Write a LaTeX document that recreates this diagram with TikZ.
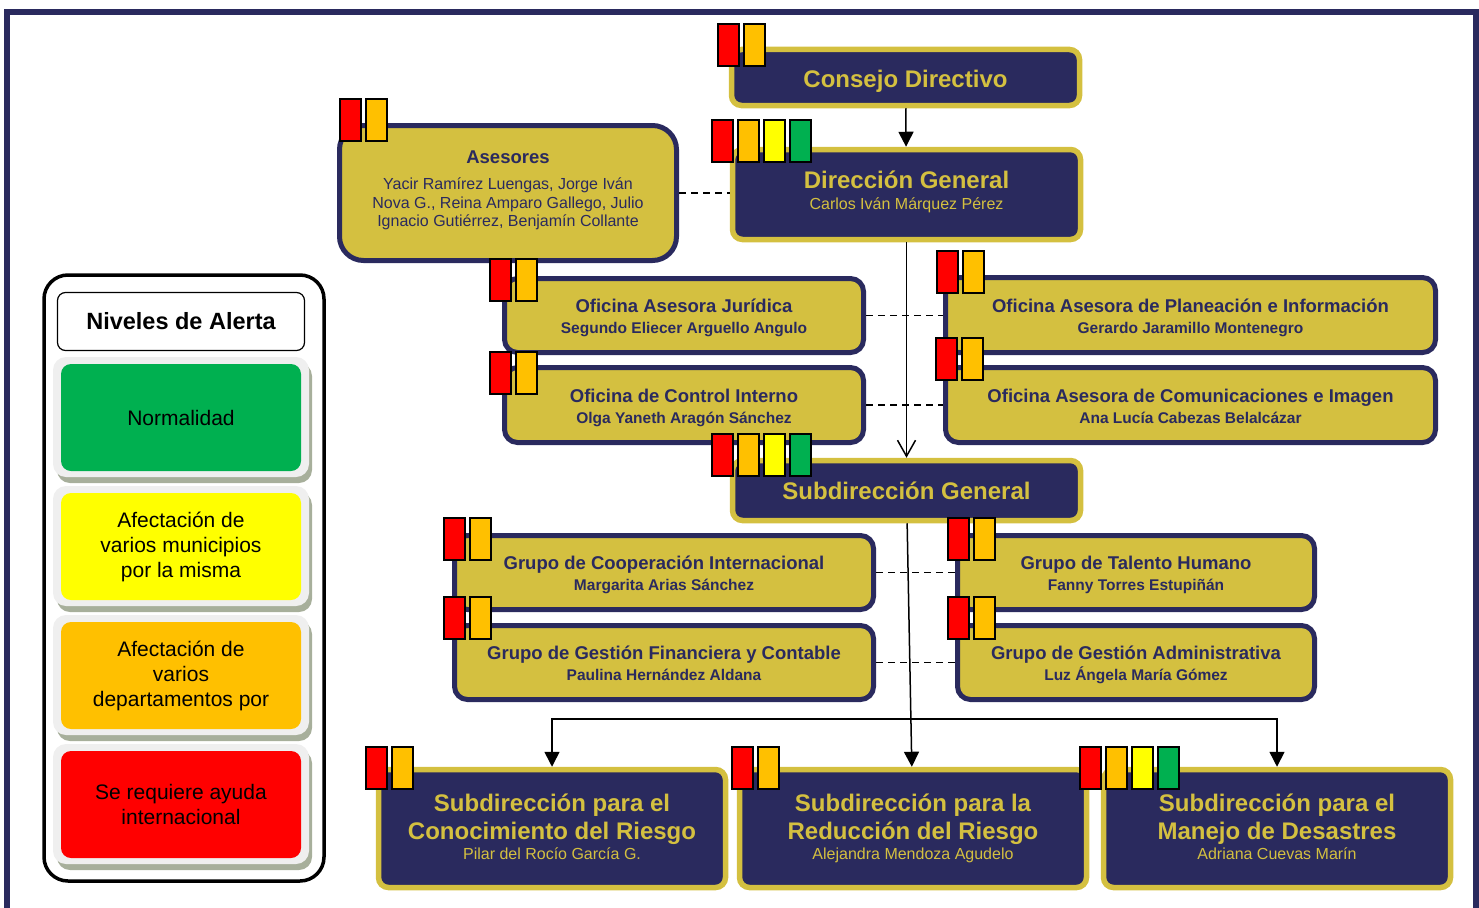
\documentclass[tikz,border=0pt]{standalone}
\usepackage{fontspec}
\setmainfont{Liberation Sans}
\usetikzlibrary{arrows.meta}

\definecolor{navy}{HTML}{2A2A5E}
\definecolor{gold}{HTML}{D4C040}
\definecolor{alertred}{HTML}{FF0000}
\definecolor{alertorange}{HTML}{FFC000}
\definecolor{alertyellow}{HTML}{FFFF00}
\definecolor{alertgreen}{HTML}{00B050}
\definecolor{paneledge}{HTML}{EFEFEF}
\definecolor{panelshadow}{HTML}{A7AF9B}

\newcommand{\bigfont}{\bfseries\fontsize{24}{28}\selectfont}
\newcommand{\midfont}{\bfseries\fontsize{18.5}{21}\selectfont}
\newcommand{\tallrule}[1]{\rule{0pt}{#1pt}}
\newcommand{\deeprule}[1]{\rule[-#1pt]{0pt}{#1pt}}
% title + name inside the boxes
\newcommand{\officetext}[2]{{\midfont\tallrule{20.2}#1}\\ #2\deeprule{5}}
\newcommand{\chieftext}[2]{{\bigfont\tallrule{20}#1}\\ #2\deeprule{10.8}}
\newcommand{\subdtext}[3]{{\bigfont\tallrule{20}#1}\\[4pt] {\bigfont #2}\\ #3\deeprule{5.8}}
\newcommand{\flagset}[3]{%
  \foreach \c [count=\i from 0] in {#3}
    \filldraw[flag, fill=\c] ({#1+26*\i},#2) rectangle +(21,42);}

\begin{document}
\begin{tikzpicture}
 [
  x=1pt, y=-1pt,
  >={Triangle[length=15pt,width=15pt]},
  navybox/.style = {draw=gold, fill=navy, line width=5.5pt, rounded corners=10pt,
                    text=gold, align=center, inner sep=0pt},
  goldbox/.style = {draw=navy, fill=gold, line width=5pt, rounded corners=13pt,
                    text=navy, align=center, inner sep=0pt,
                    font=\bfseries\fontsize{15.5}{21}\selectfont},
  flag/.style    = {draw=black, line width=1.5pt},
  link/.style    = {line width=1.5pt},
  dotlink/.style = {line width=1.6pt, dash pattern=on 7pt off 5pt},
  level/.style   = {rounded corners=10pt, minimum width=240, minimum height=107,
                    align=center, inner sep=0pt, font=\fontsize{21}{25}\selectfont},
 ]
 \clip (0,0) rectangle (1479,907);

 % page frame
 \draw[navy, line width=6pt] (6.5,920) |- (1476,12) -- (1476,920);

 % top of the chart
 \node (cd) at (905.5,77.5) [navybox, minimum width=348, minimum height=56]
   {\bigfont\tallrule{25.2}Consejo Directivo\deeprule{5}};
 \node (dg) at (906.5,194.5) [navybox, minimum width=348, minimum height=90,
   font=\fontsize{16}{21}\selectfont] {\chieftext{Dirección General}{Carlos Iván Márquez Pérez}};
 \node (ases) at (508,193) [goldbox, rounded corners=24pt, minimum width=337, minimum height=135,
   font=\fontsize{16}{18.5}\selectfont]
   {{\midfont\tallrule{20}Asesores}\\[7.5pt] Yacir Ramírez Luengas, Jorge Iván\\
    Nova G., Reina Amparo Gallego, Julio\\ Ignacio Gutiérrez, Benjamín Collante\deeprule{15.8}};

 % oficinas
 \node (jur) at (684,315.5) [goldbox, minimum width=359, minimum height=74]
   {\officetext{Oficina Asesora Jurídica}{Segundo Eliecer Arguello Angulo}};
 \node (oci) at (684,405) [goldbox, minimum width=359, minimum height=75]
   {\officetext{Oficina de Control Interno}{Olga Yaneth Aragón Sánchez}};
 \node (plan) at (1190.5,315) [goldbox, minimum width=490, minimum height=75]
   {\officetext{Oficina Asesora de Planeación e Información}{Gerardo Jaramillo Montenegro}};
 \node (com) at (1190.5,405) [goldbox, minimum width=490, minimum height=75]
   {\officetext{Oficina Asesora de Comunicaciones e Imagen}{Ana Lucía Cabezas Belalcázar}};

 \node (sg) at (906.5,490.5) [navybox, minimum width=348, minimum height=60] {\bigfont Subdirección General};

 % grupos
 \node (coop) at (664,572.5) [goldbox, minimum width=419, minimum height=74]
   {\officetext{Grupo de Cooperación Internacional}{Margarita Arias Sánchez}};
 \node (gfc) at (664,662.5) [goldbox, minimum width=419, minimum height=74]
   {\officetext{Grupo de Gestión Financiera y Contable}{Paulina Hernández Aldana}};
 \node (th) at (1136,572.5) [goldbox, minimum width=357, minimum height=74]
   {\officetext{Grupo de Talento Humano}{Fanny Torres Estupiñán}};
 \node (gad) at (1136,662.5) [goldbox, minimum width=357, minimum height=74]
   {\officetext{Grupo de Gestión Administrativa}{Luz Ángela María Gómez}};

 % subdirecciones
 \node (con) at (552,828.5) [navybox, minimum width=347, minimum height=118,
   font=\fontsize{16}{20}\selectfont]
   {\subdtext{Subdirección para el}{Conocimiento del Riesgo}{Pilar del Rocío García G.}};
 \node (red) at (913,828.5) [navybox, minimum width=347, minimum height=118,
   font=\fontsize{16}{20}\selectfont]
   {\subdtext{Subdirección para la}{Reducción del Riesgo}{Alejandra Mendoza Agudelo}};
 \node (man) at (1277,828.5) [navybox, minimum width=347, minimum height=118,
   font=\fontsize{16}{20}\selectfont]
   {\subdtext{Subdirección para el}{Manejo de Desastres}{Adriana Cuevas Marín}};

 % connectors
 \draw[link, ->] (cd) -- (dg);
 \draw[link, -{Straight Barb[length=16pt,width=18pt]}] (dg) -- (sg);
 \draw[link, ->] (sg) -- (red);
 \coordinate (fork) at (910,719);
 \draw[link, ->] (fork) -| (con);
 \draw[link, ->] (fork) -| (man);

 \draw[dotlink] (ases.east) -- (ases.east -| dg.west);
 \draw[dotlink] (jur.east) -- (jur.east -| plan.west);
 \draw[dotlink] (oci.east) -- (oci.east -| com.west);
 \draw[dotlink] (coop.east) -- (coop.east -| th.west);
 \draw[dotlink] (gfc.east) -- (gfc.east -| gad.west);

 % alert flags
 \flagset{718}{24}{alertred,alertorange}
 \flagset{712}{120}{alertred,alertorange,alertyellow,alertgreen}
 \flagset{340}{99}{alertred,alertorange}
 \flagset{490}{259}{alertred,alertorange}
 \flagset{490}{352}{alertred,alertorange}
 \flagset{937}{251}{alertred,alertorange}
 \flagset{936}{338}{alertred,alertorange}
 \flagset{712}{434}{alertred,alertorange,alertyellow,alertgreen}
 \flagset{444}{518}{alertred,alertorange}
 \flagset{444}{597}{alertred,alertorange}
 \flagset{948}{518}{alertred,alertorange}
 \flagset{948}{597}{alertred,alertorange}
 \flagset{366}{747}{alertred,alertorange}
 \flagset{732}{747}{alertred,alertorange}
 \flagset{1080}{747}{alertred,alertorange,alertyellow,alertgreen}

 % legend
 \draw[line width=3.5pt, rounded corners=24pt] (44,275) rectangle (324,881);
 \node (alert) at (181,321.5) [draw, line width=1.2pt, rounded corners=8pt, minimum width=247,
   minimum height=58, font=\bfseries\fontsize{23.5}{26}\selectfont] {Niveles de Alerta};
 \foreach \nm/\col/\y/\txt in {green/alertgreen/417.5/{Normalidad},
     yellow/alertyellow/546.5/{Afectación de\\ varios municipios\\ por la misma},
     orange/alertorange/675.5/{Afectación de\\ varios\\ departamentos por},
     red/alertred/804.5/{Se requiere ayuda\\ internacional}}
 {
   \fill[panelshadow, rounded corners=13pt] (57,\y-54.5) rectangle (312,\y+65.5);
   \fill[paneledge, rounded corners=13pt] (53,\y-60.5) rectangle (309,\y+59.5);
   \node (lv\nm) at (181,\y) [level, fill=\col] {\txt};
 }
\end{tikzpicture}
\end{document}
